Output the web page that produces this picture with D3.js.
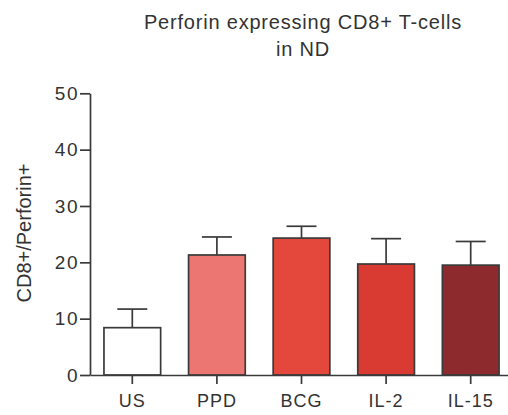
<!DOCTYPE html>
<html>
<head>
<meta charset="utf-8">
<script src="https://cdn.jsdelivr.net/npm/d3@7"></script>
<style>
  html, body { margin: 0; padding: 0; background: #fff; }
  svg { display: block; }
  text { font-family: "Liberation Sans", Arial, Helvetica, sans-serif; fill: #333; }
</style>
</head>
<body>
<svg id="chart" width="508" height="415"></svg>
<script>
// Perforin+ CD8+ T-cells per stimulation condition (mean ± SEM)
const categories = ["US", "PPD", "BCG", "IL-2", "IL-15"];
const means = [8.4, 21.3, 24.3, 19.7, 19.5];
const sems = [3.3, 3.2, 2.1, 4.5, 4.2];
const yTicks = [0, 10, 20, 30, 40, 50];
const barColors = ["#ffffff", "#ec7772", "#e4473b", "#d93a32", "#8c2a2d"];

const svg = d3.select("#chart");
const stroke = "#3a3a3a";

const x = d3.scaleBand()
  .domain(categories)
  .range([90, 513])
  .paddingInner(0.33)
  .paddingOuter(0.165);

const y = d3.scaleLinear().domain([0, 50]).range([375, 93.3]);

// Title
const title = svg.append("text")
  .attr("text-anchor", "middle")
  .style("font-size", "20px")
  .style("letter-spacing", "0.8px");
title.append("tspan").attr("x", 303).attr("y", 29).text("Perforin expressing CD8+ T-cells");
title.append("tspan").attr("x", 303).attr("y", 56).text("in ND");

// Bars
svg.append("g").selectAll("rect")
  .data(categories)
  .join("rect")
  .attr("x", d => x(d))
  .attr("width", x.bandwidth())
  .attr("y", (d, i) => y(means[i]))
  .attr("height", (d, i) => y(0) - y(means[i]))
  .attr("fill", (d, i) => barColors[i])
  .attr("stroke", stroke)
  .attr("stroke-width", 1.7);

// Error bars (upper only)
const err = svg.append("g").attr("stroke", stroke).attr("stroke-width", 1.7);
categories.forEach((c, i) => {
  const cx = x(c) + x.bandwidth() / 2;
  err.append("line")
    .attr("x1", cx).attr("x2", cx)
    .attr("y1", y(means[i])).attr("y2", y(means[i] + sems[i]));
  err.append("line")
    .attr("x1", cx - 15).attr("x2", cx + 15)
    .attr("y1", y(means[i] + sems[i])).attr("y2", y(means[i] + sems[i]));
});

// Y axis
const yAxis = svg.append("g")
  .attr("transform", "translate(90,0)")
  .call(d3.axisLeft(y).tickValues(yTicks).tickSize(10).tickPadding(1).tickSizeOuter(0));
yAxis.select(".domain").attr("stroke", stroke).attr("stroke-width", 1.7);
yAxis.selectAll(".tick line").attr("stroke", stroke).attr("stroke-width", 1.7);
yAxis.selectAll(".tick text")
  .style("font-size", "19px")
  .style("letter-spacing", "1.5px")
  .attr("fill", "#333");

// X axis
const xAxis = svg.append("g")
  .attr("transform", "translate(0,375)")
  .call(d3.axisBottom(x).tickSize(9).tickPadding(10).tickSizeOuter(0));
xAxis.select(".domain").attr("stroke", stroke).attr("stroke-width", 1.7);
xAxis.selectAll(".tick line").attr("stroke", stroke).attr("stroke-width", 1.7);
xAxis.selectAll(".tick text")
  .style("font-size", "18px")
  .style("letter-spacing", "1px")
  .attr("fill", "#333");

// Y axis title
svg.append("text")
  .attr("transform", "translate(31,233) rotate(-90)")
  .attr("text-anchor", "middle")
  .style("font-size", "20px")
  .text("CD8+/Perforin+");
</script>
</body>
</html>
